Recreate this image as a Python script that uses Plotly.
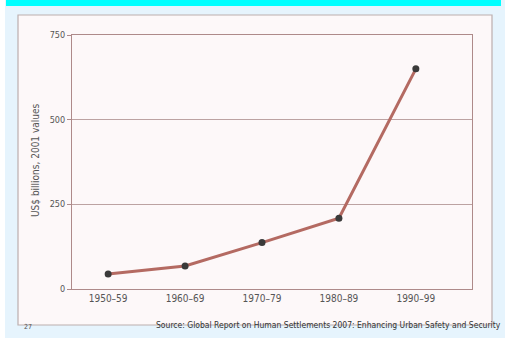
import plotly.graph_objects as go

# Decades and investment (US$ billions, 2001 values)
periods = ["1950–59", "1960–69", "1970–79", "1980–89", "1990–99"]
values = [44, 68, 137, 209, 650]
y_ticks = [0, 250, 500, 750]

W, H = 505, 338
L, R, T, B = 72, 33, 35, 49
pw, ph = W - L - R, H - T - B


def px(x):
    return (x - L) / pw


def py(y):
    return (H - B - y) / ph


axis_col = "#ae8a8a"
grid_col = "#bca2a2"
text_col = "#555555"
narrow = "Liberation Sans Narrow, Arial Narrow, DejaVu Sans Condensed, sans-serif"

fig = go.Figure()
fig.add_trace(go.Scatter(
    x=periods, y=values, mode="lines+markers",
    line=dict(color="#b46a62", width=3),
    marker=dict(color="#3a3a3a", size=7),
    hoverinfo="x+y", showlegend=False,
))

shapes = [
    # light blue slide background
    dict(type="rect", xref="paper", yref="paper", layer="below",
         x0=px(5), x1=px(505), y0=py(338), y1=py(0),
         fillcolor="#e6f4fd", line=dict(width=0)),
    # cyan header band
    dict(type="rect", xref="paper", yref="paper", layer="below",
         x0=px(6), x1=px(501), y0=py(6), y1=py(0),
         fillcolor="#00ffff", line=dict(width=0)),
    # figure panel
    dict(type="rect", xref="paper", yref="paper", layer="below",
         x0=px(18), x1=px(492), y0=py(325), y1=py(15),
         fillcolor="#fdf8f9", line=dict(color="#bcaeae", width=1.2)),
]

annotations = [
    dict(text="US$ billions, 2001 values", textangle=-90, showarrow=False,
         xref="paper", yref="paper", x=px(35), y=py(160),
         xanchor="center", yanchor="middle",
         font=dict(family=narrow, size=10, color=text_col)),
    dict(text="Source: Global Report on Human Settlements 2007: Enhancing Urban Safety and Security",
         showarrow=False, xref="paper", yref="paper", xanchor="right",
         x=px(503), y=py(332), font=dict(family=narrow, size=8.5, color="#333333")),
    dict(text="27", showarrow=False, xref="paper", yref="paper", xanchor="left",
         x=px(22), y=py(333), font=dict(family=narrow, size=7, color="#555555")),
]

fig.update_layout(
    width=W, height=H,
    margin=dict(l=L, r=R, t=T, b=B),
    paper_bgcolor="white", plot_bgcolor="#fdf8f9",
    shapes=shapes, annotations=annotations,
    xaxis=dict(type="category", range=[-0.47, 4.73],
               showgrid=False, showline=True, mirror=True,
               linecolor=axis_col, linewidth=1.2, ticks="",
               tickfont=dict(family=narrow, size=10, color=text_col)),
    yaxis=dict(range=[0, 750], tickvals=y_ticks, showgrid=True,
               gridcolor=grid_col, gridwidth=1.2, zeroline=False,
               showline=True, mirror=True, linecolor=axis_col, linewidth=1.2,
               ticks="outside", ticklen=4, tickcolor=axis_col,
               tickfont=dict(family=narrow, size=9, color=text_col)),
)

fig.write_html("out.html")
